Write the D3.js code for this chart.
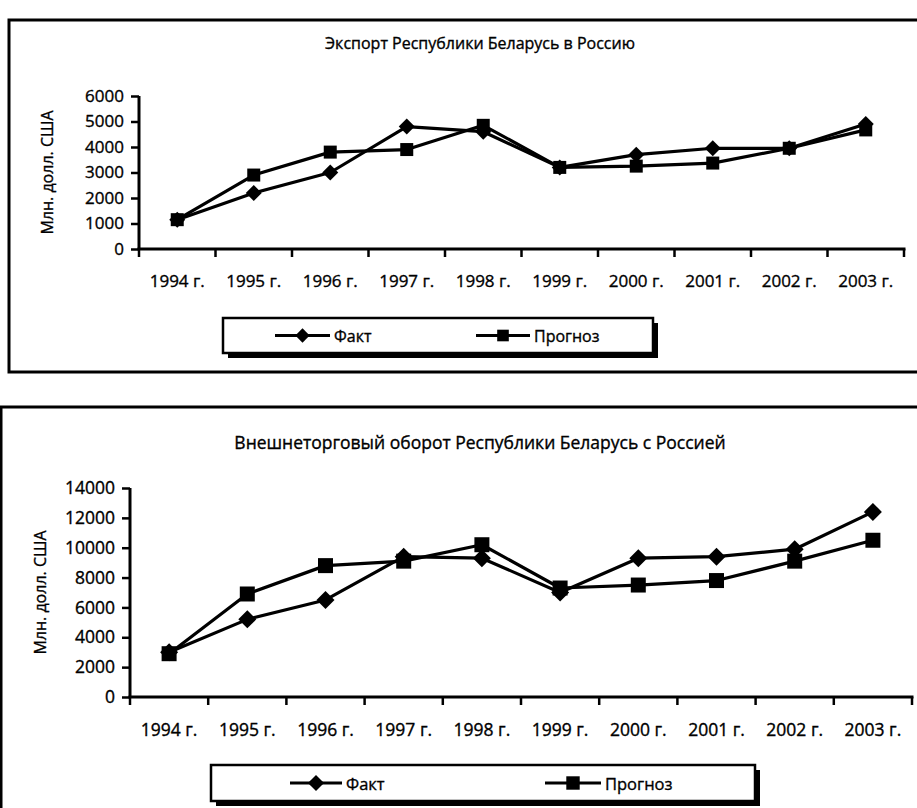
<!DOCTYPE html>
<html>
<head>
<meta charset="utf-8">
<script src="https://cdn.jsdelivr.net/npm/d3@7"></script>
<style>
  body { margin: 0; background: #fff; }
  svg { display: block; }
  text { font-family: "Open Sans", sans-serif; fill: #000; stroke: #000; stroke-width: 0.35px; }
</style>
</head>
<body>
<svg id="c" width="917" height="808"></svg>
<script>
// ---- data ----
const years = ["1994 г.", "1995 г.", "1996 г.", "1997 г.", "1998 г.",
               "1999 г.", "2000 г.", "2001 г.", "2002 г.", "2003 г."];
const seriesNames = ["Факт", "Прогноз"];
const yAxisTitle = "Млн. долл. США";

const exportTitle = "Экспорт Республики Беларусь в Россию";
const exportFact = [1150, 2200, 3000, 4800, 4600, 3200, 3700, 3950, 3950, 4900];
const exportForecast = [1150, 2900, 3800, 3900, 4850, 3200, 3250, 3370, 3950, 4670];
const exportTicks = [0, 1000, 2000, 3000, 4000, 5000, 6000];

const turnoverTitle = "Внешнеторговый оборот Республики Беларусь с Россией";
const turnoverFact = [3000, 5200, 6500, 9400, 9300, 7000, 9300, 9400, 9900, 12400];
const turnoverForecast = [2900, 6900, 8800, 9100, 10200, 7300, 7500, 7800, 9100, 10500];
const turnoverTicks = [0, 2000, 4000, 6000, 8000, 10000, 12000, 14000];

// ---- layout of the two panels ----
const panels = [
  {
    title: exportTitle, fact: exportFact, forecast: exportForecast, ticks: exportTicks,
    frame: { x: 9, y: 20, w: 930, h: 352 },
    titleY: 43, titleSize: 16,
    xRange: [139, 904], yRange: [249, 96],
    yLabelX: 47, xLabelY: 280, tickSize: 17,
    marker: 13,
    legend: { x: 223, y: 318, w: 430, h: 35, fact: [275, 330], fore: [476, 530], size: 16 }
  },
  {
    title: turnoverTitle, fact: turnoverFact, forecast: turnoverForecast, ticks: turnoverTicks,
    frame: { x: 1, y: 407, w: 940, h: 430 },
    titleY: 442, titleSize: 17.5,
    xRange: [130, 912], yRange: [697, 488],
    yLabelX: 40, xLabelY: 729, tickSize: 17.5,
    marker: 15,
    legend: { x: 211, y: 765, w: 544, h: 36, fact: [290, 342], fore: [545, 601], size: 16.5 }
  }
];

const svg = d3.select("#c");

// diamond drawn as a square turned 45 degrees
const diamondType = {
  draw(ctx, size) {
    const r = Math.sqrt(size) / 2;
    ctx.moveTo(0, -r); ctx.lineTo(r, 0); ctx.lineTo(0, r); ctx.lineTo(-r, 0); ctx.closePath();
  }
};
const squareType = {
  draw(ctx, size) {
    const r = Math.sqrt(size) / 2;
    ctx.rect(-r, -r, 2 * r, 2 * r);
  }
};

panels.forEach(p => {
  const g = svg.append("g");

  // outer frame
  g.append("rect")
    .attr("x", p.frame.x).attr("y", p.frame.y)
    .attr("width", p.frame.w).attr("height", p.frame.h)
    .attr("fill", "#fff").attr("stroke", "#000").attr("stroke-width", 3);

  // title
  g.append("text")
    .attr("x", 480).attr("y", p.titleY)
    .attr("text-anchor", "middle").attr("dominant-baseline", "central")
    .style("font-size", p.titleSize + "px")
    .text(p.title);

  const x = d3.scaleBand().domain(years).range(p.xRange);
  const y = d3.scaleLinear().domain([0, d3.max(p.ticks)]).range(p.yRange);

  // y axis
  const yAxis = g.append("g")
    .attr("transform", `translate(${p.xRange[0]},0)`)
    .call(d3.axisLeft(y).tickValues(p.ticks).tickSize(8).tickPadding(7).tickFormat(d3.format("d")));
  yAxis.attr("font-family", null).attr("font-size", null);
  yAxis.select(".domain").attr("stroke-width", 3).attr("d", `M0,${p.yRange[1]}V${p.yRange[0]}`);
  yAxis.selectAll(".tick line").attr("stroke-width", 2.5);
  yAxis.selectAll(".tick text").style("font-size", p.tickSize + "px");

  // x axis with ticks on category boundaries
  const xAxis = g.append("g").attr("transform", `translate(0,${p.yRange[0]})`);
  xAxis.append("line")
    .attr("x1", p.xRange[0] - 1.5).attr("x2", p.xRange[1] + 1.5)
    .attr("stroke", "#000").attr("stroke-width", 3);
  const bounds = years.map(d => x(d)).concat([x(years[years.length - 1]) + x.bandwidth()]);
  xAxis.selectAll(".xt").data(bounds).join("line")
    .attr("x1", d => d).attr("x2", d => d).attr("y1", 0).attr("y2", 8)
    .attr("stroke", "#000").attr("stroke-width", 2.5);
  g.selectAll(".xl").data(years).join("text")
    .attr("x", d => x(d) + x.bandwidth() / 2).attr("y", p.xLabelY)
    .attr("text-anchor", "middle").attr("dominant-baseline", "central")
    .style("font-size", p.tickSize + "px")
    .text(d => d);

  // y axis title
  g.append("text")
    .attr("transform", `translate(${p.yLabelX},${(p.yRange[0] + p.yRange[1]) / 2}) rotate(-90)`)
    .attr("text-anchor", "middle").attr("dominant-baseline", "central")
    .style("font-size", "16px")
    .text(yAxisTitle);

  // series
  const cx = d => x(d) + x.bandwidth() / 2;
  const line = d3.line().x(d => cx(d.year)).y(d => y(d.v));
  const series = [
    { name: seriesNames[0], values: p.fact, type: diamondType, size: (p.marker + 3) * (p.marker + 3) },
    { name: seriesNames[1], values: p.forecast, type: squareType, size: p.marker * p.marker }
  ];
  series.forEach(s => {
    const pts = years.map((yr, i) => ({ year: yr, v: s.values[i] }));
    g.append("path").datum(pts)
      .attr("fill", "none").attr("stroke", "#000").attr("stroke-width", 3.2)
      .attr("stroke-linejoin", "round")
      .attr("d", line);
    g.selectAll(null).data(pts).join("path")
      .attr("transform", d => `translate(${cx(d.year)},${y(d.v)})`)
      .attr("d", d3.symbol().type(s.type).size(s.size))
      .attr("fill", "#000");
  });

  // legend box with drop shadow
  const L = p.legend;
  g.append("rect").attr("x", L.x + 5).attr("y", L.y + 5).attr("width", L.w).attr("height", L.h).attr("fill", "#000");
  g.append("rect").attr("x", L.x).attr("y", L.y).attr("width", L.w).attr("height", L.h)
    .attr("fill", "#fff").attr("stroke", "#000").attr("stroke-width", 2.5);
  const ly = L.y + L.h / 2;
  [[L.fact, series[0]], [L.fore, series[1]]].forEach(([span, s]) => {
    g.append("line").attr("x1", span[0]).attr("x2", span[1]).attr("y1", ly).attr("y2", ly)
      .attr("stroke", "#000").attr("stroke-width", 3);
    g.append("path")
      .attr("transform", `translate(${(span[0] + span[1]) / 2},${ly})`)
      .attr("d", d3.symbol().type(s.type).size(s.size * 0.8))
      .attr("fill", "#000");
    g.append("text").attr("x", span[1] + 4).attr("y", ly)
      .attr("dominant-baseline", "central")
      .style("font-size", L.size + "px")
      .text(s.name);
  });
});
</script>
</body>
</html>
